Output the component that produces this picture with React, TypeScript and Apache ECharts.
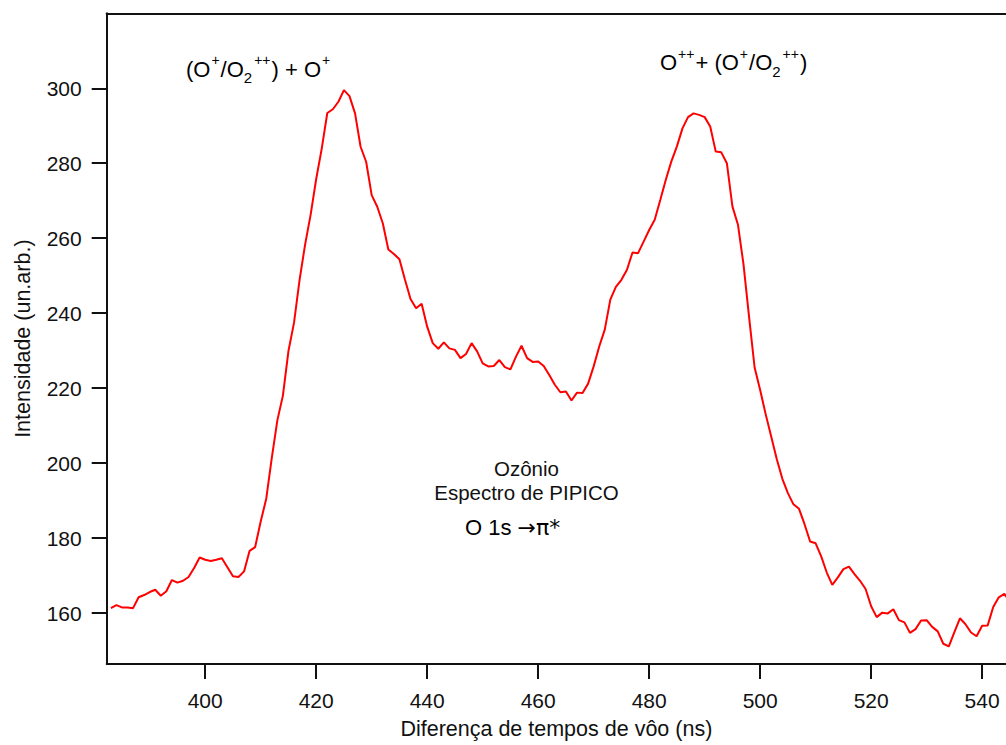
import React, { useEffect, useRef } from "react";
import * as echarts from "echarts";

const timeNs: number[] = [
  383, 384, 385, 386, 387, 388, 389, 390, 391, 392, 393, 394, 395, 396, 397, 398, 399, 400,
  401, 402, 403, 404, 405, 406, 407, 408, 409, 410, 411, 412, 413, 414, 415, 416, 417, 418,
  419, 420, 421, 422, 423, 424, 425, 426, 427, 428, 429, 430, 431, 432, 433, 434, 435, 436,
  437, 438, 439, 440, 441, 442, 443, 444, 445, 446, 447, 448, 449, 450, 451, 452, 453, 454,
  455, 456, 457, 458, 459, 460, 461, 462, 463, 464, 465, 466, 467, 468, 469, 470, 471, 472,
  473, 474, 475, 476, 477, 478, 479, 480, 481, 482, 483, 484, 485, 486, 487, 488, 489, 490,
  491, 492, 493, 494, 495, 496, 497, 498, 499, 500, 501, 502, 503, 504, 505, 506, 507, 508,
  509, 510, 511, 512, 513, 514, 515, 516, 517, 518, 519, 520, 521, 522, 523, 524, 525, 526,
  527, 528, 529, 530, 531, 532, 533, 534, 535, 536, 537, 538, 539, 540, 541, 542, 543, 544,
  545,
];

const intensity: number[] = [
  161.3, 162.1, 161.5, 161.5, 161.3, 164.2, 164.8, 165.6, 166.2, 164.6, 165.8, 168.8, 168.1, 168.6, 169.6, 172.0, 174.8, 174.2,
  173.9, 174.2, 174.6, 172.2, 169.8, 169.6, 171.1, 176.6, 177.6, 184.4, 190.5, 201.4, 211.4, 218.0, 229.9, 237.4, 248.8, 258.3,
  266.3, 275.8, 283.9, 293.4, 294.4, 296.4, 299.5, 297.9, 293.3, 284.4, 280.4, 271.5, 268.4, 264.0, 257.0, 255.8, 254.4, 248.9,
  243.8, 241.3, 242.5, 236.4, 232.0, 230.5, 232.2, 230.6, 230.2, 228.0, 229.1, 232.0, 229.8, 226.6, 225.8, 225.9, 227.5, 225.6,
  225.0, 228.4, 231.3, 228.0, 227.0, 227.1, 225.9, 223.5, 220.9, 218.9, 219.1, 216.7, 218.8, 218.7, 221.2, 225.8, 231.1, 235.6,
  243.6, 247.0, 248.9, 251.6, 256.2, 256.0, 259.1, 262.2, 264.9, 270.2, 275.6, 280.5, 284.5, 289.3, 292.3, 293.3, 292.9, 292.3,
  289.8, 283.1, 282.9, 280.0, 268.5, 263.6, 253.0, 239.0, 225.5, 219.5, 213.0, 207.0, 201.0, 195.8, 192.0, 189.0, 187.8, 183.7,
  179.1, 178.6, 175.1, 170.8, 167.5, 169.5, 171.7, 172.4, 170.4, 168.6, 166.4, 161.8, 158.9, 160.1, 159.9, 161.0, 158.1, 157.5,
  154.7, 155.7, 158.0, 158.1, 156.3, 155.1, 151.8, 151.1, 154.9, 158.6, 157.0, 154.8, 153.8, 156.6, 156.7, 161.6, 164.2, 165.1,
  163.0,
];

const xTicks: number[] = [400, 420, 440, 460, 480, 500, 520, 540];
const yTicks: number[] = [160, 180, 200, 220, 240, 260, 280, 300];

const xAxisTitle = "Diferença de tempos de vôo (ns)";
const yAxisTitle = "Intensidade (un.arb.)";
const peak1Label = "{n|(O}{sup|+}{n|/O}{sub|2}{sup|++}{n|) + O}{sup|+}";
const peak2Label = "{n|O}{sup|++}{n|+ (O}{sup|+}{n|/O}{sub|2}{sup|++}{n|)}";
const sampleText = "Ozônio\nEspectro de PIPICO";
const transitionLabel = "{n|O 1s }{s|→π*}";

const FONT = "'Liberation Sans', Arial, Helvetica, sans-serif";
const SYMBOL_FONT = "'DejaVu Sans', 'Liberation Serif', serif";
const INK = "#111111";

const richStyles = {
  n: { fontSize: 22, lineHeight: 32, verticalAlign: "middle", fontFamily: FONT, color: INK },
  sup: { fontSize: 14, lineHeight: 10.6, verticalAlign: "top", fontFamily: FONT, color: INK, padding: [0, 1, 0, 1] },
  sub: { fontSize: 15, lineHeight: 16, verticalAlign: "bottom", fontFamily: FONT, color: INK, padding: [0, 1, 0, 0] },
};

const transitionRich = {
  n: { fontSize: 22, lineHeight: 30, verticalAlign: "middle", fontFamily: FONT, color: INK },
  s: { fontSize: 22, lineHeight: 30, verticalAlign: "middle", fontFamily: SYMBOL_FONT, color: INK },
};

export default function App() {
  const ref = useRef<HTMLDivElement>(null);

  useEffect(() => {
    if (!ref.current) return;
    const chart = echarts.init(ref.current, undefined, { renderer: "svg" });
    const seriesData = timeNs.map((t, i) => [t, intensity[i]]);

    chart.setOption({
      animation: false,
      backgroundColor: "#ffffff",
      grid: { left: 106.7, top: 13.3, right: 0, bottom: 745 - 664.3, containLabel: false },
      xAxis: [
        {
          type: "value",
          min: 382.25,
          max: 544.3,
          position: "bottom",
          name: xAxisTitle,
          nameLocation: "middle",
          nameGap: 54,
          nameTextStyle: { fontFamily: FONT, fontSize: 21.5, color: INK },
          axisLine: { show: true, onZero: false, lineStyle: { color: INK, width: 2 } },
          axisTick: { show: true, inside: false, length: 15, customValues: xTicks, lineStyle: { color: INK, width: 2 } },
          axisLabel: {
            show: true,
            customValues: xTicks,
            margin: 26,
            fontFamily: FONT,
            fontSize: 21,
            color: INK,
          },
          splitLine: { show: false },
        },
        {
          type: "value",
          min: 382.25,
          max: 544.3,
          position: "top",
          axisLine: { show: true, onZero: false, lineStyle: { color: INK, width: 2 } },
          axisTick: { show: false },
          axisLabel: { show: false },
          splitLine: { show: false },
        },
      ],
      yAxis: {
        type: "value",
        min: 146.4,
        max: 320,
        name: yAxisTitle,
        nameLocation: "middle",
        nameGap: 73,
        nameRotate: 90,
        nameTextStyle: { fontFamily: FONT, fontSize: 21.5, color: INK },
        axisLine: { show: true, onZero: false, lineStyle: { color: INK, width: 2 } },
        axisTick: { show: true, inside: false, length: 15, customValues: yTicks, lineStyle: { color: INK, width: 2 } },
        axisLabel: {
          show: true,
          customValues: yTicks,
          margin: 25,
          fontFamily: FONT,
          fontSize: 21,
          color: INK,
        },
        splitLine: { show: false },
      },
      series: [
        {
          type: "line",
          xAxisIndex: 0,
          data: seriesData,
          showSymbol: false,
          symbol: "none",
          clip: true,
          lineStyle: { color: "#ff0000", width: 2 },
        },
      ],
      graphic: [
        {
          type: "text",
          x: 186,
          y: 69.2,
          style: { text: peak1Label, rich: richStyles, align: "left", verticalAlign: "middle" },
        },
        {
          type: "text",
          x: 660,
          y: 62.5,
          style: { text: peak2Label, rich: richStyles, align: "left", verticalAlign: "middle" },
        },
        {
          type: "text",
          x: 526.5,
          y: 480.25,
          style: {
            text: sampleText,
            fontFamily: FONT,
            fontSize: 20.5,
            lineHeight: 23.5,
            fill: INK,
            align: "center",
            verticalAlign: "middle",
          },
        },
        {
          type: "text",
          x: 465,
          y: 527.5,
          style: { text: transitionLabel, rich: transitionRich, align: "left", verticalAlign: "middle" },
        },
      ],
    });

    return () => chart.dispose();
  }, []);

  return (
    <div
      ref={ref}
      style={{ position: "absolute", left: 0, top: 0, width: 1006, height: 745, background: "#ffffff" }}
    />
  );
}
